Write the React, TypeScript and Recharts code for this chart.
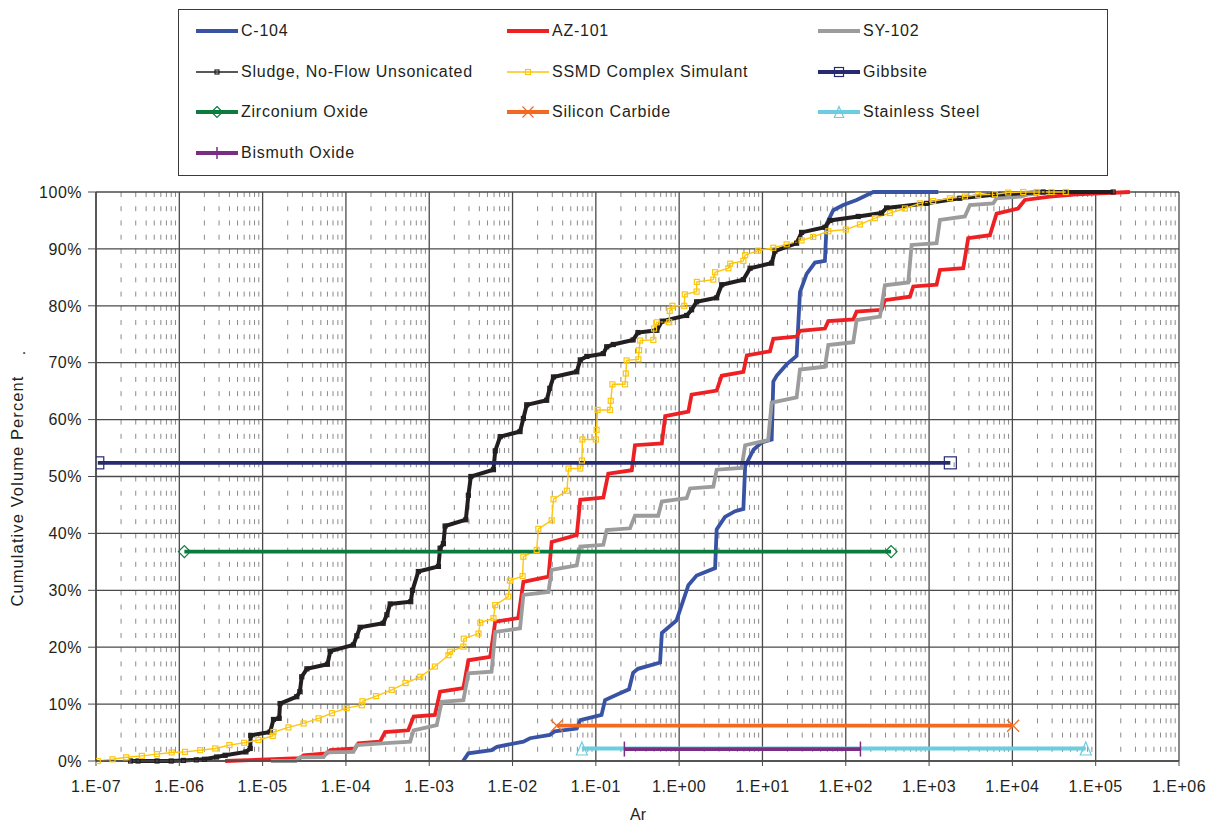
import React from 'react';
import { LineChart, Line, XAxis, YAxis, CartesianGrid } from 'recharts';

type P = [number, number];

const c104: P[] = [
  [2.55e-3, 0], [2.95e-3, 1.35], [5.6e-3, 1.9], [6.5e-3, 2.5], [1.35e-2, 3.4], [1.62e-2, 4], [2.8e-2, 4.6],
  [3.2e-2, 5.2], [5.9e-2, 5.7], [6.5e-2, 7.2], [0.117, 8.1], [0.129, 10.7], [0.195, 11.9], [0.25, 12.6],
  [0.28, 15.5], [0.32, 16.2], [0.59, 17.3], [0.62, 22.5], [0.93, 24.7], [1.29, 30.9], [1.62, 32.6],
  [2.7, 33.9], [2.82, 40.7], [3.55, 42.9], [4.7, 43.9], [5.9, 44.3], [6.2, 51.8], [7.8, 54.7], [9.8, 56],
  [12.9, 56.5], [13.5, 66.7], [14.8, 67.7], [19.5, 69.7], [25.7, 71.2], [28.2, 82.4], [33.9, 85.6],
  [42.7, 87.6], [56.2, 87.9], [58.9, 94.4], [70.8, 96.8], [93.3, 97.7], [135, 98.6], [214, 100], [1290, 100],
];

const az101: P[] = [
  [3.55e-6, 0], [2.8e-5, 0.5], [3.1e-5, 1], [5.9e-5, 1.35], [6.5e-5, 1.9], [1.29e-4, 2.2], [1.41e-4, 3.1],
  [2.57e-4, 3.4], [2.95e-4, 5.1], [5.6e-4, 5.4], [6.5e-4, 7.8], [1.17e-3, 8.1], [1.35e-3, 12.2],
  [2.57e-3, 12.8], [2.95e-3, 17.7], [5.4e-3, 18.3], [6.2e-3, 24.5], [1.17e-2, 25.1], [1.35e-2, 31.5],
  [2.7e-2, 32.4], [2.95e-2, 38.5], [5.9e-2, 39.7], [6.5e-2, 45.9], [0.123, 46.3], [0.141, 50.5],
  [0.27, 51.1], [0.295, 55.5], [0.62, 55.8], [0.68, 60.6], [1.29, 61.4], [1.41, 64.4], [2.82, 65.1],
  [3.24, 67.7], [5.9, 68.4], [6.5, 71.3], [12.3, 72], [13.5, 74.2], [25.7, 74.6], [28.2, 75.6],
  [56.2, 76], [61.7, 77.3], [123, 77.6], [135, 79], [269, 79.3], [295, 81], [589, 81.6], [646, 83.4],
  [1230, 83.7], [1350, 86.3], [2570, 86.6], [2950, 91.9], [5370, 92.4], [6460, 96.2], [11700, 97.1],
  [14100, 98.6], [28200, 99.2], [58900, 99.6], [257000, 100],
];

const sy102: P[] = [
  [1.26e-5, 0], [2.5e-5, 0], [2.8e-5, 0.65], [5.4e-5, 0.7], [5.9e-5, 1.5], [1.23e-4, 1.6], [1.35e-4, 2.8],
  [2.7e-4, 3.1], [5.9e-4, 3.4], [6.5e-4, 5.4], [1.23e-3, 6.3], [1.41e-3, 10.4], [2.57e-3, 10.7],
  [2.95e-3, 15.4], [5.6e-3, 15.7], [6.2e-3, 22.7], [1.23e-2, 23.3], [1.35e-2, 29.2], [2.7e-2, 29.7],
  [2.95e-2, 33.6], [5.9e-2, 34.4], [6.5e-2, 37.7], [0.123, 38], [0.135, 40.6], [0.257, 40.9],
  [0.295, 43.1], [0.56, 43.1], [0.62, 45.6], [1.23, 46.2], [1.35, 47.9], [2.57, 48.2], [2.82, 51.2],
  [5.6, 51.5], [6.2, 55.5], [11.7, 56.4], [12.9, 63], [25.7, 63.9], [28.2, 68.8], [56.2, 69.3],
  [61.7, 73.1], [123, 73.6], [135, 77.5], [257, 78.1], [295, 83.6], [562, 84.1], [617, 90.7],
  [1230, 91], [1350, 95.1], [2690, 95.7], [3090, 97.7], [5890, 98], [6460, 98.9], [12600, 99.2],
  [15800, 99.6], [31600, 100],
];

const sludge: P[] = [
  [2.6e-7, 0], [3.2e-7, 0], [5.4e-7, 0], [8e-7, 0], [1.12e-6, 0.1], [1.6e-6, 0.2], [2e-6, 0.3],
  [2.8e-6, 0.7], [3.55e-6, 1.0], [6.3e-6, 1.6], [7.1e-6, 2.2], [7.2e-6, 4.5], [1.23e-5, 5.1],
  [1.35e-5, 7.3], [1.58e-5, 7.5], [1.62e-5, 10.1], [2.57e-5, 11.3], [2.8e-5, 12.2], [2.95e-5, 14.8],
  [3.4e-5, 16.2], [6e-5, 17], [6.5e-5, 19.3], [1.23e-4, 20.4], [1.35e-4, 22], [1.48e-4, 23.5],
  [2.8e-4, 24.2], [3.1e-4, 25.7], [3.4e-4, 27.6], [6e-4, 28], [6.3e-4, 30], [7.4e-4, 33.3],
  [1.29e-3, 34.2], [1.35e-3, 37.4], [1.48e-3, 38.2], [1.55e-3, 41.3], [2.75e-3, 42.4], [2.95e-3, 46.7],
  [3.16e-3, 50], [5.9e-3, 51.2], [6.2e-3, 54.5], [7.1e-3, 57], [1.23e-2, 57.9], [1.35e-2, 60.2],
  [1.48e-2, 62.6], [2.57e-2, 63.4], [2.8e-2, 65.5], [3.1e-2, 67.5], [5.9e-2, 68.4], [6.5e-2, 70.5],
  [7.8e-2, 71.1], [0.123, 71.6], [0.135, 72.8], [0.162, 73.2], [0.28, 74], [0.32, 75.3], [0.54, 75.7],
  [0.62, 77.3], [1.23, 78.3], [1.41, 79.3], [1.62, 80.7], [2.82, 81.4], [3.24, 83.7], [5.9, 84.6],
  [7.1, 86.6], [12.9, 87.5], [14.1, 89.6], [25.7, 91], [29.5, 92.9], [56.2, 93.8], [64.6, 95],
  [141, 95.7], [269, 96.3], [309, 97.2], [933, 98], [2340, 98.9], [5890, 99.5], [23400, 100],
  [162000, 100],
];

const ssmd: P[] = [
  [1.05e-7, 0], [1.58e-7, 0.3], [2.3e-7, 0.65], [3.55e-7, 0.9], [5.4e-7, 1.2], [8.1e-7, 1.5],
  [1.17e-6, 1.6], [1.78e-6, 1.9], [2.7e-6, 2.2], [4e-6, 2.8], [6e-6, 3.2], [8.9e-6, 3.7], [1.32e-5, 4.4],
  [1.35e-5, 5.1], [2.04e-5, 5.9], [3.1e-5, 6.6], [4.7e-5, 7.5], [6.8e-5, 8.4], [1.02e-4, 9.3],
  [1.55e-4, 9.8], [1.58e-4, 10.5], [2.3e-4, 11.4], [3.55e-4, 12.5], [5.2e-4, 13.7], [7.8e-4, 14.8],
  [1.17e-3, 16.6], [1.7e-3, 18.6], [1.78e-3, 19.2], [2.57e-3, 20.1], [2.6e-3, 21.5], [3.9e-3, 22.4],
  [4.1e-3, 24.3], [5.9e-3, 25.1], [6.2e-3, 27.4], [8.9e-3, 28.9], [9.3e-3, 31.7], [1.32e-2, 32.5],
  [1.35e-2, 35.9], [1.95e-2, 37.1], [2.04e-2, 40.8], [2.95e-2, 42.3], [3.1e-2, 46], [4.5e-2, 47.5],
  [4.7e-2, 51.4], [6.5e-2, 51.4], [6.8e-2, 52.8], [6.9e-2, 56.5], [0.1, 56.5], [0.102, 58.2],
  [0.105, 61.7], [0.148, 61.7], [0.151, 63.3], [0.158, 66.2], [0.224, 66.2], [0.229, 68.1],
  [0.234, 70.4], [0.324, 70.6], [0.33, 72.2], [0.34, 73.9], [0.49, 74], [0.5, 76], [0.54, 77.1],
  [0.76, 77.1], [0.77, 79.1], [0.83, 80], [1.15, 80], [1.17, 82], [1.62, 82.5], [1.63, 84.2],
  [2.57, 84.6], [2.7, 85.9], [3.9, 86.6], [4.1, 87.4], [5.9, 87.9], [6.2, 88.9], [8.9, 89.7],
  [13.5, 90.2], [19.5, 90.8], [29.5, 91.5], [40.7, 92.1], [61.7, 93.1], [100, 93.4], [148, 94.3],
  [224, 95.4], [339, 96.3], [513, 97.1], [776, 98], [1120, 98.4], [1780, 98.9], [2690, 99.2],
  [3890, 99.5], [6170, 99.6], [8910, 99.9], [13500, 100], [19500, 100], [29500, 100], [43700, 100],
];

const gibbsite: P[] = [[1.05e-7, 52.4], [1.8e3, 52.4]];
const zirconium: P[] = [[1.15e-6, 36.8], [3.5e2, 36.8]];
const siliconCarbide: P[] = [[3.4e-2, 6.2], [1.02e4, 6.2]];
const stainless: P[] = [[6.8e-2, 2.2], [7.6e4, 2.2]];
const bismuth: P[] = [[2.2e-1, 2.1], [1.5e2, 2.1]];

const xTicks = [1e-7, 1e-6, 1e-5, 1e-4, 1e-3, 1e-2, 1e-1, 1e0, 1e1, 1e2, 1e3, 1e4, 1e5, 1e6];
const xTickLabels = ['1.E-07', '1.E-06', '1.E-05', '1.E-04', '1.E-03', '1.E-02', '1.E-01', '1.E+00',
  '1.E+01', '1.E+02', '1.E+03', '1.E+04', '1.E+05', '1.E+06'];
const minorMultipliers = [2, 3, 4, 5, 6, 7, 8, 9];
const yTicks = [0, 10, 20, 30, 40, 50, 60, 70, 80, 90, 100];

const minorValues = xTicks.slice(0, -1).flatMap((d) => minorMultipliers.map((m) => m * d));
const rows = (pts: P[]) => pts.map(([x, y]) => ({ x, y }));

const FONT = '"Liberation Sans", Arial, Helvetica, sans-serif';
const TXT = '#231f20';

type MarkerKind = 'none' | 'smallSquare' | 'square' | 'diamond' | 'x' | 'triangle' | 'bar';

const drawMarker = (kind: MarkerKind, cx: number, cy: number, color: string, size: number, key?: string) => {
  const h = size / 2;
  switch (kind) {
    case 'smallSquare':
    case 'square':
      return <rect key={key} x={cx - h} y={cy - h} width={size} height={size} fill="none" stroke={color} strokeWidth={1.2} />;
    case 'diamond':
      return <path key={key} d={`M${cx},${cy - h}L${cx + h},${cy}L${cx},${cy + h}L${cx - h},${cy}Z`} fill="none" stroke={color} strokeWidth={1.2} />;
    case 'x':
      return <path key={key} d={`M${cx - h},${cy - h}L${cx + h},${cy + h}M${cx - h},${cy + h}L${cx + h},${cy - h}`} stroke={color} strokeWidth={1.3} fill="none" />;
    case 'triangle':
      return <path key={key} d={`M${cx},${cy - h}L${cx + h * 0.85},${cy + h}L${cx - h * 0.85},${cy + h}Z`} fill="none" stroke={color} strokeWidth={1.2} />;
    case 'bar':
      return <path key={key} d={`M${cx},${cy - h}L${cx},${cy + h}`} stroke={color} strokeWidth={1.5} />;
    default:
      return <g key={key} />;
  }
};

const dotFn = (kind: MarkerKind, color: string, size: number) => (props: any) => {
  const { cx, cy, index } = props;
  if (cx == null || cy == null) return <g key={`e${index}`} />;
  return drawMarker(kind, cx, cy, color, size, `m${index}`);
};

interface Series {
  name: string;
  data: P[];
  color: string;
  width: number;
  marker: MarkerKind;
  size: number;
  legendSize: number;
  legendWidth: number;
}

const series: Series[] = [
  { name: 'C-104', data: c104, color: '#3953a4', width: 3.8, marker: 'none', size: 0, legendSize: 0, legendWidth: 3.8 },
  { name: 'AZ-101', data: az101, color: '#ed2024', width: 3.8, marker: 'none', size: 0, legendSize: 0, legendWidth: 3.8 },
  { name: 'SY-102', data: sy102, color: '#9c9c9c', width: 3.8, marker: 'none', size: 0, legendSize: 0, legendWidth: 3.8 },
  { name: 'Sludge, No-Flow Unsonicated', data: sludge, color: '#231f20', width: 4, marker: 'smallSquare', size: 4, legendSize: 4, legendWidth: 1.3 },
  { name: 'SSMD Complex Simulant', data: ssmd, color: '#fcc60d', width: 1.4, marker: 'square', size: 5, legendSize: 5, legendWidth: 1.4 },
  { name: 'Gibbsite', data: gibbsite, color: '#262a6e', width: 3.8, marker: 'square', size: 12, legendSize: 9, legendWidth: 3.8 },
  { name: 'Zirconium Oxide', data: zirconium, color: '#0c7b3e', width: 3.8, marker: 'diamond', size: 12, legendSize: 11, legendWidth: 3.8 },
  { name: 'Silicon Carbide', data: siliconCarbide, color: '#f26a21', width: 3.8, marker: 'x', size: 12, legendSize: 11, legendWidth: 3.8 },
  { name: 'Stainless Steel', data: stainless, color: '#6dcde0', width: 3.8, marker: 'triangle', size: 13, legendSize: 11, legendWidth: 3.8 },
  { name: 'Bismuth Oxide', data: bismuth, color: '#7b2d83', width: 3.8, marker: 'bar', size: 15, legendSize: 12, legendWidth: 3.8 },
];

const XTick = (props: any) => {
  const { x, y, payload } = props;
  const i = xTicks.findIndex((t) => Math.abs(Math.log10(t) - Math.log10(payload.value)) < 1e-6);
  return (
    <text x={x} y={y} dy="0.71em" textAnchor="middle" fontSize={16} fill={TXT} fontFamily={FONT} style={{ letterSpacing: '0.5px' }}>
      {i >= 0 ? xTickLabels[i] : ''}
    </text>
  );
};

const YTick = (props: any) => {
  const { x, y, payload } = props;
  return (
    <text x={x} y={y} dy="0.36em" textAnchor="end" fontSize={16} fill={TXT} fontFamily={FONT} style={{ letterSpacing: '0.5px' }}>
      {`${payload.value}%`}
    </text>
  );
};

const legendCols = [195, 506, 817];
const legendRows = [30, 71, 111, 152];

const Legend = () => (
  <div style={{ position: 'absolute', left: 178, top: 9, width: 930, height: 167, border: '1px solid #3a3a3a', boxSizing: 'border-box', background: '#fff' }}>
    {series.map((s, i) => {
      const lx = legendCols[i % 3] - 178;
      const ly = legendRows[Math.floor(i / 3)] - 9;
      return (
        <div key={s.name} style={{ position: 'absolute', left: lx, top: ly - 10, height: 20, whiteSpace: 'nowrap' }}>
          <svg width={44} height={20} style={{ position: 'absolute', left: 0, top: 0 }}>
            <line x1={0} y1={10} x2={42} y2={10} stroke={s.color} strokeWidth={s.legendWidth} />
            {drawMarker(s.marker, 21, 10, s.color, s.legendSize)}
          </svg>
          <span style={{ position: 'absolute', left: 45, top: 0, lineHeight: '20px', fontSize: 16, fontFamily: FONT, color: TXT, letterSpacing: '0.75px' }}>
            {s.name}
          </span>
        </div>
      );
    })}
  </div>
);

export default function App() {
  return (
    <div style={{ position: 'absolute', left: 0, top: 0, width: 1217, height: 827, background: '#fff', fontFamily: FONT }}>
      <LineChart width={1217} height={827} margin={{ top: 192, right: 38, bottom: 26, left: 36 }}>
        <CartesianGrid horizontal={false} vertical verticalValues={minorValues} stroke="#8a8a8a" strokeWidth={1} strokeDasharray="5 9.225" />
        <CartesianGrid stroke="#4a4a4a" strokeWidth={1.3} />
        <XAxis
          dataKey="x"
          type="number"
          scale="log"
          domain={[1e-7, 1e6]}
          ticks={xTicks}
          allowDataOverflow
          height={40}
          tickSize={5}
          tickMargin={15}
          tick={<XTick />}
          axisLine={{ stroke: '#4a4a4a', strokeWidth: 1.5 }}
          tickLine={{ stroke: '#4a4a4a' }}
          interval={0}
        />
        <YAxis
          dataKey="y"
          type="number"
          domain={[0, 100]}
          ticks={yTicks}
          width={60}
          tickSize={8}
          tickMargin={6}
          tick={<YTick />}
          axisLine={{ stroke: '#4a4a4a', strokeWidth: 1.5 }}
          tickLine={{ stroke: '#4a4a4a' }}
          interval={0}
        />
        {series.map((s) => (
          <Line
            key={s.name}
            name={s.name}
            data={rows(s.data)}
            dataKey="y"
            type="linear"
            stroke={s.color}
            strokeWidth={s.width}
            dot={s.marker === 'none' ? false : dotFn(s.marker, s.color, s.size)}
            activeDot={false}
            isAnimationActive={false}
            legendType="none"
          />
        ))}
      </LineChart>
      <Legend />
      <div style={{ position: 'absolute', left: 17, top: 491, transform: 'translate(-50%, -50%) rotate(-90deg)', whiteSpace: 'nowrap', fontSize: 16.5, fontFamily: FONT, color: TXT, letterSpacing: '1.1px' }}>
        Cumulative Volume Percent
      </div>
      <div style={{ position: 'absolute', left: 20, top: 353, transform: 'translate(-50%, -50%) rotate(-90deg)', fontSize: 16, fontFamily: FONT, color: TXT }}>
        .
      </div>
      <div style={{ position: 'absolute', left: 638, top: 815, transform: 'translate(-50%, -50%)', fontSize: 16, fontFamily: FONT, color: TXT }}>
        Ar
      </div>
    </div>
  );
}
